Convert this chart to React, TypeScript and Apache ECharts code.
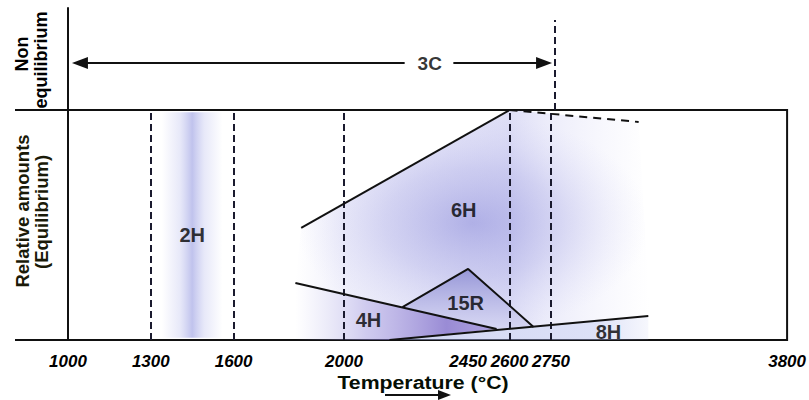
import React, { useEffect, useRef } from "react";
import * as echarts from "echarts";

// ---- data ----
const TICKS = [1000, 1300, 1600, 2000, 2450, 2600, 2750, 3800];
const DASHED_TEMPS = [1300, 1600, 2000, 2600, 2750];
const TOP_DASHED_TEMP = 2750;

const LINE_6H = [[1845, 48.7], [2600, 100]];
const LINE_6H_DASHED = [[2600, 100], [3140, 94.8]];
const LINE_4H = [[1824, 24.8], [2553, 4.8]];
const LINE_15R = [[2212, 14.3], [2450, 30.9], [2687, 5.7]];
const LINE_8H = [[2165, 0], [3183, 10.4]];

const PHASE_NAMES = ["2H", "6H", "15R", "4H", "8H"];
const PHASE_LABEL_T = [1450, 2434, 2441, 2089, 3006];
const PHASE_LABEL_Y = [45.7, 56.5, 16.1, 8.7, 3.5];

const ARROW_3C_LEFT = [2210, 1043];
const ARROW_3C_RIGHT = [2385, 2711];
const ARROW_3C_Y = 0.46;
const LABEL_3C_T = 2300;
const TOP_DASH_TO = 0.882;

const REGION_2H = [[1340, 1], [1560, 1], [1560, 99], [1340, 99]];
const REGION_6H = [[1845, 48.7], [2600, 100], [3140, 95], [3190, 11], [2687, 5.7], [2450, 30.9], [2212, 14.3], [1824, 24.8]];
const REGION_15R = [[2212, 14.3], [2450, 30.9], [2687, 5.7], [2553, 4.8]];
const REGION_4H = [[1824, 24.8], [2553, 4.8], [2165, 0], [1824, 0]];
const REGION_8H = [[2165, 0], [3183, 10.4], [3183, 0]];
const REGIONS = [REGION_2H, REGION_6H, REGION_6H, REGION_15R, REGION_4H, REGION_8H];

// ---- axis transform (scale compressed above 2750 °C) ----
const BREAK_T = 2750;
const COMPRESS = 0.815;
const u = (t: number) => (t <= BREAK_T ? t : BREAK_T + (t - BREAK_T) * COMPRESS);
const TICK_U = TICKS.map(u);
const U_MIN = u(TICKS[0]);
const U_MAX = u(TICKS[TICKS.length - 1]);

const FONT = '"Liberation Sans", Arial, Helvetica, sans-serif';
const INK = "#111";

const stop = (offset: number, color: string) => ({ offset, color });
const REGION_FILLS: any[] = [
  { type: "linear", x: 0, y: 0, x2: 1, y2: 0, colorStops: [stop(0, "rgba(160,165,230,0)"), stop(0.3, "rgba(160,165,230,0.25)"), stop(0.5, "rgba(140,145,222,0.55)"), stop(0.7, "rgba(160,165,230,0.25)"), stop(1, "rgba(160,165,230,0)")] },
  { type: "linear", x: 0, y: 0, x2: 1, y2: 0, colorStops: [stop(0, "rgba(170,170,232,0)"), stop(0.15, "rgba(165,165,230,0.18)"), stop(0.6, "rgba(150,150,226,0.32)"), stop(0.72, "rgba(165,165,232,0.2)"), stop(1, "rgba(190,190,240,0)")] },
  { type: "radial", x: 0.5, y: 0.52, r: 0.5, colorStops: [stop(0, "rgba(115,115,210,0.45)"), stop(0.5, "rgba(140,140,220,0.25)"), stop(1, "rgba(190,190,240,0)")] },
  { type: "linear", x: 0, y: 0, x2: 0, y2: 1, colorStops: [stop(0, "rgba(105,105,198,0.7)"), stop(1, "rgba(165,165,228,0.45)")] },
  { type: "linear", x: 0, y: 0, x2: 1, y2: 0, colorStops: [stop(0, "rgba(170,170,230,0)"), stop(0.35, "rgba(150,140,220,0.45)"), stop(0.75, "rgba(110,90,195,0.7)"), stop(1, "rgba(120,100,200,0.6)")] },
  { type: "linear", x: 0, y: 0, x2: 1, y2: 0, colorStops: [stop(0, "rgba(160,170,230,0.5)"), stop(0.8, "rgba(170,180,235,0.4)"), stop(1, "rgba(170,180,235,0.1)")] },
];

const toU = (pts: number[][]) => pts.map((p) => [u(p[0]), p[1]]);

const solidLine = (data: number[][], dashed = false) => ({
  type: "line",
  xAxisIndex: 1,
  yAxisIndex: 1,
  data: toU(data),
  symbol: "none",
  silent: true,
  z: 5,
  lineStyle: { color: INK, width: 2, type: dashed ? [8, 6] : "solid" },
});

const dashStyle = { color: "#1a1a2e", width: 2, type: [7, 4] as any };

const option: any = {
  animation: false,
  backgroundColor: "#fff",
  grid: [
    { left: 68, right: 16, top: 8, height: 102 },
    { left: 68, right: 16, top: 110, height: 230, show: true, borderColor: INK, borderWidth: 2, backgroundColor: "transparent" },
  ],
  xAxis: [
    { gridIndex: 0, type: "value", min: U_MIN, max: U_MAX, show: false },
    {
      gridIndex: 1,
      type: "value",
      min: U_MIN,
      max: U_MAX,
      axisLine: { show: false },
      axisTick: { show: false },
      splitLine: { show: false },
      axisLabel: {
        customValues: TICK_U,
        margin: 13,
        fontFamily: FONT,
        fontSize: 17,
        fontWeight: "bold",
        fontStyle: "italic",
        color: "#000",
        formatter: (v: number) => {
          const i = TICK_U.findIndex((x) => Math.abs(x - v) < 0.5);
          return i >= 0 ? String(TICKS[i]) : "";
        },
      },
    },
  ],
  yAxis: [
    { gridIndex: 0, type: "value", min: 0, max: 1, axisLine: { show: true, lineStyle: { color: INK, width: 2 } }, axisTick: { show: false }, axisLabel: { show: false }, splitLine: { show: false } },
    { gridIndex: 1, type: "value", min: 0, max: 100, axisLine: { show: false }, axisTick: { show: false }, axisLabel: { show: false }, splitLine: { show: false } },
  ],
  series: [
    {
      type: "custom",
      xAxisIndex: 1,
      yAxisIndex: 1,
      silent: true,
      clip: false,
      z: 1,
      data: REGIONS.map((_, i) => [i]),
      renderItem: (params: any, api: any) => {
        const pts = REGIONS[params.dataIndex].map((p) => api.coord([u(p[0]), p[1]]));
        return { type: "polygon", shape: { points: pts }, style: { fill: REGION_FILLS[params.dataIndex] } };
      },
    },
    {
      type: "line",
      xAxisIndex: 1,
      yAxisIndex: 1,
      data: [],
      silent: true,
      markLine: {
        silent: true,
        symbol: "none",
        label: { show: false },
        lineStyle: dashStyle,
        data: DASHED_TEMPS.map((t) => ({ xAxis: u(t) })),
      },
    },
    solidLine(LINE_6H),
    solidLine(LINE_6H_DASHED, true),
    solidLine(LINE_4H),
    solidLine(LINE_15R),
    solidLine(LINE_8H),
    {
      type: "scatter",
      xAxisIndex: 1,
      yAxisIndex: 1,
      symbolSize: 0,
      silent: true,
      z: 10,
      data: PHASE_NAMES.map((n, i) => ({ name: n, value: [u(PHASE_LABEL_T[i]), PHASE_LABEL_Y[i]] })),
      label: { show: true, position: "inside", formatter: "{b}", fontFamily: FONT, fontSize: 20, fontWeight: "bold", color: "#000" },
    },
    {
      type: "scatter",
      xAxisIndex: 0,
      yAxisIndex: 0,
      symbolSize: 0,
      silent: true,
      z: 10,
      data: [{ name: "3C", value: [u(LABEL_3C_T), ARROW_3C_Y] }],
      label: { show: true, position: "inside", formatter: "{b}", fontFamily: FONT, fontSize: 19, fontWeight: "bold", color: "#000" },
      markLine: {
        silent: true,
        symbol: ["none", "triangle"],
        symbolSize: [12, 16],
        label: { show: false },
        lineStyle: { color: INK, width: 2, type: "solid" },
        data: [
          [{ coord: [u(ARROW_3C_LEFT[0]), ARROW_3C_Y] }, { coord: [u(ARROW_3C_LEFT[1]), ARROW_3C_Y] }],
          [{ coord: [u(ARROW_3C_RIGHT[0]), ARROW_3C_Y] }, { coord: [u(ARROW_3C_RIGHT[1]), ARROW_3C_Y] }],
          [
            { coord: [u(TOP_DASHED_TEMP), 0], symbol: "none", lineStyle: dashStyle },
            { coord: [u(TOP_DASHED_TEMP), TOP_DASH_TO], symbol: "none" },
          ],
        ],
      },
    },
  ],
  graphic: [
    { type: "line", silent: true, shape: { x1: 15, y1: 110, x2: 68, y2: 110 }, style: { stroke: INK, lineWidth: 2 } },
    { type: "line", silent: true, shape: { x1: 15, y1: 340, x2: 68, y2: 340 }, style: { stroke: INK, lineWidth: 2 } },
    { type: "text", silent: true, x: 22, y: 54, rotation: Math.PI / 2, style: { text: "Non", font: `bold 18px ${FONT}`, fill: "#000", align: "center", verticalAlign: "middle" } },
    { type: "text", silent: true, x: 41, y: 60, rotation: Math.PI / 2, style: { text: "equilibrium", font: `bold 18px ${FONT}`, fill: "#000", align: "center", verticalAlign: "middle" } },
    { type: "text", silent: true, x: 22, y: 211, rotation: Math.PI / 2, style: { text: "Relative amounts", font: `bold 18.5px ${FONT}`, fill: "#1a1a08", align: "center", verticalAlign: "middle" } },
    { type: "text", silent: true, x: 41, y: 212, rotation: Math.PI / 2, style: { text: "(Equilibrium)", font: `bold 18.5px ${FONT}`, fill: "#1a1a08", align: "center", verticalAlign: "middle" } },
    { type: "text", silent: true, x: 423, y: 382, scaleX: 1.12, style: { text: "Temperature (°C)", font: `bold 19px ${FONT}`, fill: "#050f05", align: "center", verticalAlign: "middle" } },
    { type: "line", silent: true, shape: { x1: 385, y1: 395, x2: 440, y2: 395 }, style: { stroke: INK, lineWidth: 2 } },
    { type: "polygon", silent: true, shape: { points: [[451, 395], [438, 390], [438, 400]] }, style: { fill: INK } },
  ],
};

export default function App() {
  const ref = useRef<HTMLDivElement>(null);
  useEffect(() => {
    const chart = echarts.init(ref.current!, null, { renderer: "svg" });
    chart.setOption(option);
    return () => chart.dispose();
  }, []);
  return <div ref={ref} style={{ position: "absolute", left: 0, top: 0, width: 809, height: 400 }} />;
}
